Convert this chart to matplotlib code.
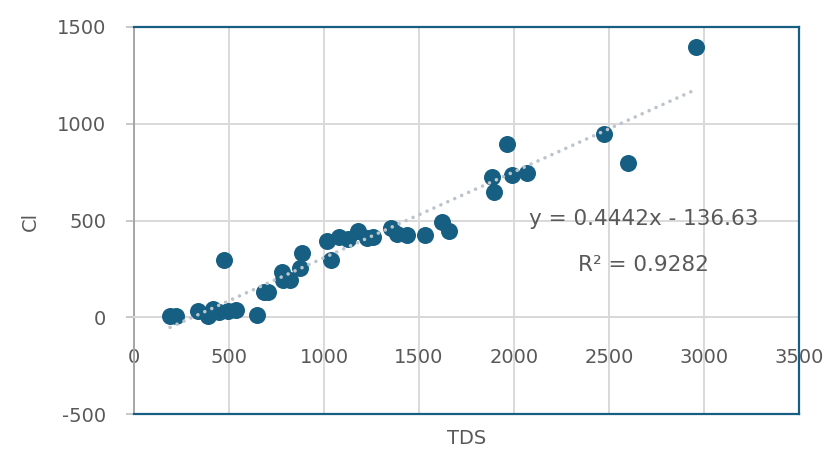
import numpy as np
import matplotlib.pyplot as plt

plt.rcParams['axes.unicode_minus'] = False

# TDS vs Cl readings
tds = [190, 220, 335, 390, 415, 450, 495, 535, 475, 645, 685, 705, 780, 785, 820,
       875, 885, 1015, 1035, 1080, 1125, 1180, 1225, 1260, 1355, 1385, 1435, 1530,
       1620, 1660, 1885, 1895, 1965, 1990, 2070, 2475, 2600, 2960]
cl = [5, 5, 30, 5, 45, 25, 30, 40, 295, 10, 130, 130, 235, 190, 190,
      255, 330, 395, 295, 415, 405, 445, 410, 415, 460, 430, 425, 425,
      490, 445, 725, 645, 895, 735, 745, 945, 795, 1395]

slope = 0.4442
intercept = -136.63
r2 = 0.9282

x_ticks = [0, 500, 1000, 1500, 2000, 2500, 3000, 3500]
y_ticks = [-500, 0, 500, 1000, 1500]

blue = '#165f83'
txt = '#595959'

fig = plt.figure(figsize=(8.24, 4.5), dpi=100)
ax = fig.add_axes([0.1626, 0.08, 0.8071, 0.86])

ax.scatter(tds, cl, s=150, color=blue, zorder=3, linewidths=0)

xs = np.array([min(tds), max(tds)])
ax.plot(xs, slope * xs + intercept, color='#bcc4cc', lw=2.6,
        linestyle=(0, (0.01, 2.1)), dash_capstyle='round', zorder=4)

ax.set_xlim(0, 3500)
ax.set_ylim(-500, 1500)
ax.set_xticks(x_ticks)
ax.set_yticks(y_ticks)
ax.grid(True, color='#d9d9d9', lw=1.4, zorder=0)
ax.set_axisbelow(True)

# x axis crosses at y = 0
ax.spines['bottom'].set_position(('data', 0))
ax.spines['bottom'].set_color('#d9d9d9')
ax.spines['bottom'].set_linewidth(1.4)
ax.spines['left'].set_color('#a6a6a6')
ax.spines['left'].set_linewidth(1.4)
ax.spines['top'].set_visible(False)
ax.spines['right'].set_visible(False)

# blue plot-area border (top, right, bottom)
for xx, yy in [([0, 1], [1, 1]), ([1, 1], [0, 1]), ([0, 1], [0, 0])]:
    ax.plot(xx, yy, transform=ax.transAxes, color=blue, lw=1.6, clip_on=False, zorder=5)

ax.tick_params(axis='x', length=0, pad=22, labelsize=14, labelcolor=txt)
ax.tick_params(axis='y', length=6, width=1.2, color='#bfbfbf', pad=14,
               labelsize=14, labelcolor=txt)

ax.text(2680, 508, f'y = {slope}x - {abs(intercept)}', ha='center', va='center',
        fontsize=15.5, color=txt)
ax.text(2680, 268, f'R² = {r2}', ha='center', va='center', fontsize=15.5, color=txt)

fig.text(467 / 824, 1 - 438 / 450, 'TDS', ha='center', va='center', fontsize=14, color=txt)
fig.text(30 / 824, 1 - 221 / 450, 'Cl', ha='center', va='center', rotation=90,
         fontsize=14, color=txt)

fig.savefig('out.png', dpi=100)
